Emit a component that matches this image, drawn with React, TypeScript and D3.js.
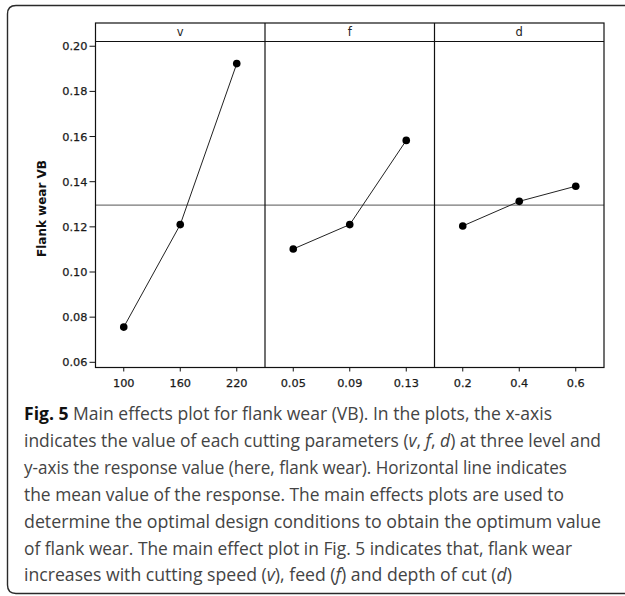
import React from "react";
import * as d3 from "d3";

const factors = ["v", "f", "d"];
const vLevels = ["100", "160", "220"];
const fLevels = ["0.05", "0.09", "0.13"];
const dLevels = ["0.2", "0.4", "0.6"];
const vMeans = [0.0756, 0.121, 0.1923];
const fMeans = [0.1102, 0.121, 0.1583];
const dMeans = [0.1204, 0.1313, 0.138];
const yTicks = [0.06, 0.08, 0.1, 0.12, 0.14, 0.16, 0.18, 0.2];
const yTitle = "Flank wear VB";

const captionLines = [
  "Main effects plot for flank wear (VB). In the plots, the x-axis",
  "indicates the value of each cutting parameters (v, f, d) at three level and",
  "y-axis the response value (here, flank wear). Horizontal line indicates",
  "the mean value of the response. The main effects plots are used to",
  "determine the optimal design conditions to obtain the optimum value",
  "of flank wear. The main effect plot in Fig. 5 indicates that, flank wear",
  "increases with cutting speed (v), feed (f) and depth of cut (d)",
];
const captionEnds = [552, 601, 567, 564, 601, 572, 512];

const L = 95.5, R = 604, T = 23, S = 41.5, B = 367.5;

function renderCaptionLine(line: string) {
  const parts: React.ReactNode[] = [];
  const re = /\b([vfd])(?=[,)])/g;
  let last = 0;
  let m: RegExpExecArray | null;
  let k = 0;
  while ((m = re.exec(line)) !== null) {
    if (m.index > last) parts.push(<tspan key={k++}>{line.slice(last, m.index)}</tspan>);
    parts.push(<tspan key={k++} fontStyle="italic">{m[1]}</tspan>);
    last = m.index + 1;
  }
  if (last < line.length) parts.push(<tspan key={k++}>{line.slice(last)}</tspan>);
  return parts;
}

export default function App() {
  const allLevels = [vLevels, fLevels, dLevels];
  const allMeans = [vMeans, fMeans, dMeans];
  const grandMean = d3.mean(vMeans) as number;
  const panelX = d3.scaleBand<string>().domain(factors).range([L, R]).padding(0);
  const y = d3.scaleLinear().domain([0.0577, 0.2021]).range([B, S]);
  const lineGen = d3.line<[number, number]>().x((d) => d[0]).y((d) => d[1]);
  const font = "'DejaVu Sans', Verdana, sans-serif";
  const capFont = "'Open Sans', 'Noto Sans', sans-serif";
  const bw = panelX.bandwidth();

  return (
    <svg width={625} height={596} style={{ position: "absolute", left: 0, top: 0 }}>
      <rect x={0} y={0} width={625} height={596} fill="#fff" />
      <path
        d={`M 632 5.5 L 16 5.5 Q 7.5 5.5 7.5 14 L 7.5 585 Q 7.5 593.5 16 593.5 L 632 593.5`}
        fill="none"
        stroke="#2a2a2a"
        strokeWidth={1.4}
      />
      {yTicks.map((t) => (
        <g key={t}>
          <line x1={L - 6} x2={L} y1={y(t)} y2={y(t)} stroke="#111" />
          <text x={L - 8} y={y(t)} dy="0.35em" textAnchor="end" fontFamily={font} fontSize={11.3} fill="#1a1a1a" stroke="#1a1a1a" strokeWidth={0.25}>
            {d3.format(".2f")(t)}
          </text>
        </g>
      ))}
      <text
        transform={`translate(${46},${(S + B) / 2 + 4}) rotate(-90)`}
        textAnchor="middle"
        fontFamily={font}
        fontSize={12}
        fontWeight="bold"
        fill="#111"
      >
        {yTitle}
      </text>
      {factors.map((fac, i) => {
        const x0 = panelX(fac) as number;
        const xs = d3.scalePoint<string>().domain(allLevels[i]).range([x0, x0 + bw]).padding(0.5);
        const pts: [number, number][] = allLevels[i].map((lv, j) => [xs(lv) as number, y(allMeans[i][j])]);
        return (
          <g key={fac}>
            <line x1={x0} x2={x0 + bw} y1={y(grandMean)} y2={y(grandMean)} stroke="#555" strokeWidth={1} />
            <text x={x0 + bw / 2} y={(T + S) / 2} dy="0.35em" textAnchor="middle" fontFamily={font} fontSize={11.5} fill="#222">
              {fac}
            </text>
            <path d={lineGen(pts) as string} fill="none" stroke="#222" strokeWidth={1} />
            {pts.map((p, j) => (
              <circle key={j} cx={p[0]} cy={p[1]} r={3.8} fill="#000" />
            ))}
            {allLevels[i].map((lv) => (
              <g key={lv}>
                <line x1={xs(lv)} x2={xs(lv)} y1={B} y2={B + 4} stroke="#111" />
                <text x={xs(lv)} y={B + 19} textAnchor="middle" fontFamily={font} fontSize={11.3} fill="#1a1a1a" stroke="#1a1a1a" strokeWidth={0.25}>
                  {lv}
                </text>
              </g>
            ))}
          </g>
        );
      })}
      <rect x={L} y={T} width={R - L} height={B - T} fill="none" stroke="#111" strokeWidth={1.2} />
      <line x1={L} x2={R} y1={S} y2={S} stroke="#111" strokeWidth={1.2} />
      {factors.slice(1).map((fac) => (
        <line key={fac} x1={panelX(fac)} x2={panelX(fac)} y1={T} y2={B} stroke="#111" strokeWidth={1.2} />
      ))}
      {captionLines.map((line, i) => (
        <text
          key={i}
          x={24}
          y={420 + i * 26.9}
          fontFamily={capFont}
          fontSize={18}
          fill="#444"
          textLength={captionEnds[i] - 24}
          lengthAdjust="spacingAndGlyphs"
        >
          {i === 0 ? (
            <>
              <tspan fontWeight="bold" fill="#111">Fig. 5</tspan>
              <tspan> </tspan>
              {renderCaptionLine(line)}
            </>
          ) : (
            renderCaptionLine(line)
          )}
        </text>
      ))}
    </svg>
  );
}
